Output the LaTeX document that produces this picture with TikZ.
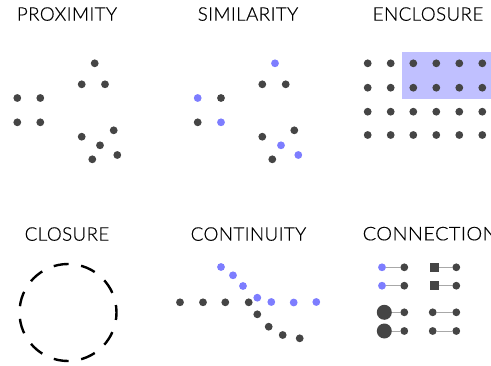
\documentclass[tikz,border=0pt]{standalone}
\usepackage{fontspec}
\setmainfont{Lato Light}[LetterSpace=2,FakeBold=0.4]
\definecolor{dotgray}{HTML}{454545}
\definecolor{dotblue}{HTML}{7D7DFF}
\definecolor{encl}{HTML}{C0C0FF}
\definecolor{linkgray}{HTML}{A8A8A8}
\begin{document}
\begin{tikzpicture}[x=1pt,y=-1pt,
  title/.style={anchor=base,font=\fontsize{18.8}{20}\selectfont,text=black,inner sep=0pt},
  dk/.style={circle,fill=dotgray,inner sep=0pt,minimum size=7.8pt},
  bl/.style={circle,fill=dotblue,inner sep=0pt,minimum size=7.8pt},
  big/.style={circle,fill=dotgray,inner sep=0pt,minimum size=15pt},
  sq/.style={rectangle,fill=dotgray,inner sep=0pt,minimum size=8.8pt},
  link/.style={draw=linkgray,line width=1pt}]
\useasboundingbox (0,0) rectangle (491,365);
\clip (0,0) rectangle (491,365);
% titles
\node[title] (tprox) at (67,20.7) {PROXIMITY};
\node[title] (tsim) at (248,20.7) {SIMILARITY};
\node[title] (tencl) at (428,20.7) {ENCLOSURE};
\node[title] (tclos) at (67,240.7) {CLOSURE};
\node[title] (tcont) at (248.5,240.7) {CONTINUITY};
\node[title,anchor=base west] (tconn) at (362.5,240.3) {\scalebox{1.06}[1]{CONNECTION}};
% proximity
\node[dk] (p1) at (94.7,63.3) {};
\node[dk] (p2) at (81.7,84.3) {};
\node[dk] (p3) at (105,84.3) {};
\node[dk] (p4) at (17.3,98) {};
\node[dk] (p5) at (40.3,98) {};
\node[dk] (p6) at (17.3,122.3) {};
\node[dk] (p7) at (40.3,122.3) {};
\node[dk] (p8) at (113.7,130.3) {};
\node[dk] (p9) at (81.7,136.7) {};
\node[dk] (p10) at (100,145.3) {};
\node[dk] (p11) at (117.3,155) {};
\node[dk] (p12) at (92.3,159.3) {};
% similarity
\node[bl] (s1) at (275,63.3) {};
\node[dk] (s2) at (262.3,84.3) {};
\node[dk] (s3) at (285.7,84.3) {};
\node[bl] (s4) at (197.7,98) {};
\node[dk] (s5) at (221,98) {};
\node[dk] (s6) at (197.7,122.3) {};
\node[bl] (s7) at (221,122.3) {};
\node[dk] (s8) at (294.3,130.3) {};
\node[dk] (s9) at (262.3,136.7) {};
\node[bl] (s10) at (281,145.3) {};
\node[bl] (s11) at (298.3,155) {};
\node[dk] (s12) at (272.3,159.3) {};
% enclosure
\fill[encl] (402,52.3) rectangle (495,99);
\foreach \c/\x in {1/367.7,2/390.7,3/413.3,4/436.3,5/459.3,6/482.3}{
  \foreach \r/\y in {1/63.3,2/87.7,3/111.7,4/135}{
    \node[dk] (e\r\c) at (\x,\y) {};
  }
}
% closure
\node[circle,draw=black,line width=2.4pt,inner sep=0pt,minimum size=97pt,
  dash pattern=on 15pt off 12.7pt,dash phase=7.5pt] (circ) at (68,312.5) {};
% continuity
\node[dk] (c1) at (180,302.3) {};
\node[dk] (c2) at (203,302.3) {};
\node[dk] (c3) at (225.3,302.3) {};
\node[dk] (c4) at (248.7,302.3) {};
\node[dk] (c5) at (257.3,314.3) {};
\node[dk] (c6) at (268.7,326.7) {};
\node[dk] (c7) at (282.7,335) {};
\node[dk] (c8) at (299.7,338.3) {};
\node[bl] (b1) at (221,267) {};
\node[bl] (b2) at (233,275.3) {};
\node[bl] (b3) at (243,286) {};
\node[bl] (b4) at (257.3,297.7) {};
\node[bl] (b5) at (271.3,302) {};
\node[bl] (b6) at (293.7,302.5) {};
\node[bl] (b7) at (316.3,302) {};
% connection
\node[bl] (n1a) at (382,267.3) {};
\node[dk] (n1b) at (404.3,267.3) {};
\node[sq] (n1c) at (434.3,267.3) {};
\node[dk] (n1d) at (456.3,267.3) {};
\node[bl] (n2a) at (382,285.7) {};
\node[dk] (n2b) at (404.3,285.7) {};
\node[sq] (n2c) at (434.3,285.7) {};
\node[dk] (n2d) at (456.3,285.7) {};
\node[big] (n3a) at (384.3,312.3) {};
\node[dk] (n3b) at (404.3,312.3) {};
\node[dk] (n3c) at (432.7,312.3) {};
\node[dk] (n3d) at (456.3,312.3) {};
\node[big] (n4a) at (384.3,331) {};
\node[dk] (n4b) at (404.3,331) {};
\node[dk] (n4c) at (432.7,331) {};
\node[dk] (n4d) at (456.3,331) {};
\foreach \r in {1,2,3,4}{
  \draw[link] (n\r a) -- (n\r b);
  \draw[link] (n\r c) -- (n\r d);
}
\end{tikzpicture}
\end{document}
